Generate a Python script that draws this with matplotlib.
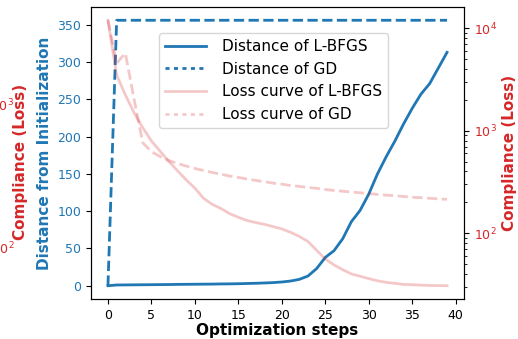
import matplotlib
matplotlib.use('Agg')
import matplotlib.pyplot as plt

steps = list(range(40))

# distance from the initial design
dist_lbfgs = [0, 1.0, 1.1, 1.2, 1.3, 1.4, 1.5, 1.6, 1.8, 1.9,
              2.0, 2.1, 2.2, 2.4, 2.5, 2.7, 3.0, 3.3, 3.7, 4.2,
              5.0, 6.3, 8.5, 13, 23, 38, 47, 63, 86, 101,
              123, 150, 173, 194, 217, 238, 257, 271, 292, 313]
dist_gd = [0] + [356] * 39

# compliance (loss) curves
loss_lbfgs = [11970, 3500, 2240, 1496, 1072, 794, 631, 501, 407, 331,
              275, 219, 191, 174, 155, 143, 133, 127, 122, 116,
              110, 102, 93, 83, 68, 56, 49, 44, 40, 38,
              36, 34.3, 33.1, 32.4, 31.6, 31.4, 31.1, 30.9, 30.8, 30.7]
loss_gd = [11970, 4571, 5715, 2042, 764, 625, 560, 512, 479, 452,
           428, 409, 391, 376, 361, 350, 338, 327, 318, 308,
           301, 292, 286, 280, 274, 267, 261, 257, 252, 248,
           243, 239, 235, 232, 228, 224, 222, 219, 216, 214]

blue = '#1f77b4'
red = '#d62728'

fig = plt.figure(figsize=(5.18, 3.39), dpi=100)
rect = [91 / 518, 40 / 339, 373 / 518, 292 / 339]
ax = fig.add_axes(rect)

# leftover loss axis sitting off to the left
ax3 = ax.twinx()
ax3.set_yscale('log')
ax3.set_ylim(10 ** 1.64, 10 ** 3.68)
ax3.yaxis.tick_left()
ax3.spines['left'].set_position(('axes', (17 - 91) / 373))
for s in ['left', 'right', 'top', 'bottom']:
    ax3.spines[s].set_visible(False)
ax3.tick_params(axis='y', which='both', length=0, pad=2, labelsize=9, labelcolor=red)
ax3.yaxis.set_label_position('left')
ax3.set_ylabel('Compliance (Loss)', color=red, fontsize=11, fontweight='bold')
ax3.yaxis.set_label_coords((28 - 91) / 373, 0.47)

l1, = ax.plot(steps, dist_lbfgs, '-', color=blue, lw=2, label='Distance of L-BFGS')
l2, = ax.plot(steps, dist_gd, '--', color=blue, lw=2, label='Distance of GD')
ax.set_xlabel('Optimization steps', fontsize=11, fontweight='bold', labelpad=1)
ax.set_ylabel('Distance from Initialization', color=blue, fontsize=11, fontweight='bold')
ax.tick_params(axis='y', labelcolor=blue, labelsize=9)
ax.tick_params(axis='x', labelsize=9)
ax.set_xticks(range(0, 45, 5))

ax2 = ax.twinx()
l3, = ax2.plot(steps, loss_lbfgs, '-', color=red, alpha=0.25, lw=2, label='Loss curve of L-BFGS')
l4, = ax2.plot(steps, loss_gd, '--', color=red, alpha=0.25, lw=2, label='Loss curve of GD')
ax2.set_yscale('log')
ax2.set_ylabel('Compliance (Loss)', color=red, fontsize=11, fontweight='bold')
ax2.tick_params(axis='y', labelcolor=red, labelsize=9)

leg = ax2.legend(handles=[l1, l2, l3, l4], fontsize=11, loc='upper left',
                 bbox_to_anchor=((159 - 91) / 373, (299 - 33) / 292), borderaxespad=0,
                 handlelength=2.7, handletextpad=1.0)
# shorter dashes in the legend keys
for i in (1, 3):
    leg.get_lines()[i].set_linestyle((0, (1.45, 1.6)))

plt.savefig('out.png', dpi=100)
